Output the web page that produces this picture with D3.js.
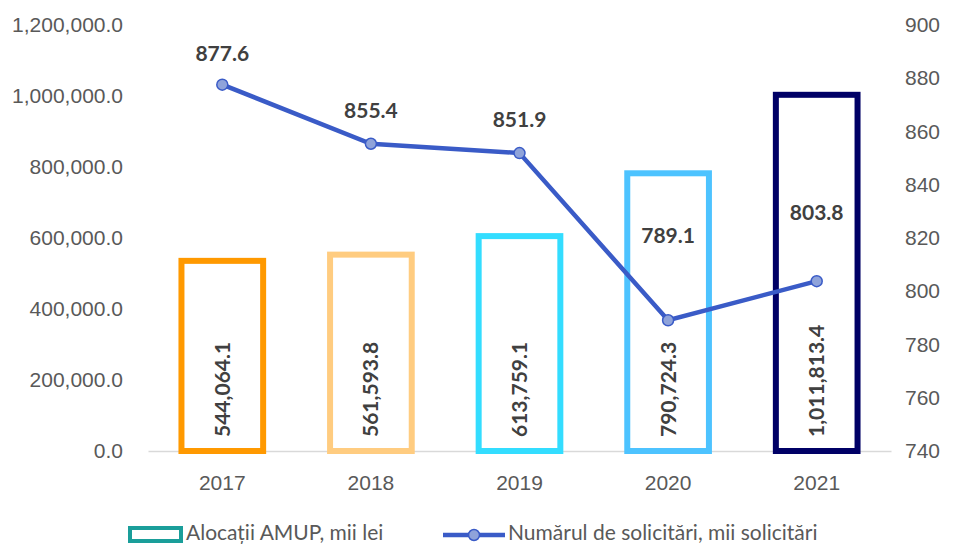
<!DOCTYPE html>
<html lang="ro">
<head>
<meta charset="utf-8">
<title>Alocații AMUP</title>
<style>
  body { margin: 0; background: #fff; }
  svg { font-family: Lato, "Open Sans", sans-serif; }
  .tick text { fill: #595959; font-size: 21px; }
  .lbl { fill: #404040; font-weight: bold; }
</style>
<script src="https://d3js.org/d3.v7.min.js"></script>
</head>
<body>
<script>
const years = ["2017", "2018", "2019", "2020", "2021"];
const allocations = [544064.1, 561593.8, 613759.1, 790724.3, 1011813.4];
const requests = [877.6, 855.4, 851.9, 789.1, 803.8];
const barColors = ["#FF9900", "#FFCC80", "#33DDFF", "#4DC3FF", "#000066"];
const leftTicks = [0, 200000, 400000, 600000, 800000, 1000000, 1200000];
const rightTicks = [740, 760, 780, 800, 820, 840, 860, 880, 900];
// label offsets above the markers (px)
const labelDy = [-24, -26, -26, -77, -61];

const width = 955, height = 546;
const margin = { left: 148, right: 64, top: 25, bottom: 95 };

const svg = d3.select("body").append("svg")
  .attr("width", width).attr("height", height);

const x = d3.scaleBand().domain(years)
  .range([margin.left, width - margin.right]).paddingInner(0.41).paddingOuter(0.205);
const yL = d3.scaleLinear().domain([0, 1200000]).range([height - margin.bottom, margin.top]);
const yR = d3.scaleLinear().domain([740, 900]).range([height - margin.bottom, margin.top]);

const fmt = d3.format(",.1f");

// left axis
svg.append("g")
  .attr("transform", `translate(${margin.left - 22},0)`)
  .call(d3.axisLeft(yL).tickValues(leftTicks).tickFormat(fmt).tickSize(0))
  .call(g => g.select(".domain").remove());

// right axis
svg.append("g")
  .attr("transform", `translate(${width - margin.right + 11},0)`)
  .call(d3.axisRight(yR).tickValues(rightTicks).tickFormat(d3.format("d")).tickSize(0))
  .call(g => g.select(".domain").remove());

// x axis
svg.append("g")
  .attr("transform", `translate(0,${height - margin.bottom})`)
  .call(d3.axisBottom(x).tickSize(0).tickPadding(24))
  .call(g => g.select(".domain").attr("stroke", "#D9D9D9").attr("stroke-width", 1.5));

// bars (hollow)
const sw = 6;
svg.append("g").selectAll("rect")
  .data(years)
  .join("rect")
  .attr("x", (d) => x(d) + sw / 2)
  .attr("width", x.bandwidth() - sw)
  .attr("y", (d, i) => yL(allocations[i]) + sw / 2)
  .attr("height", (d, i) => yL(0) - yL(allocations[i]) - sw / 2)
  .attr("fill", "#fff")
  .attr("stroke", (d, i) => barColors[i])
  .attr("stroke-width", sw);

// bar labels (vertical)
svg.append("g").selectAll("text")
  .data(years)
  .join("text")
  .attr("class", "lbl")
  .attr("transform", d => `translate(${x(d) + x.bandwidth() / 2},${yL(0) - 14}) rotate(-90)`)
  .attr("dy", "0.36em")
  .style("font-size", "21px")
  .text((d, i) => fmt(allocations[i]));

// line
const cx = d => x(d) + x.bandwidth() / 2;
const line = d3.line().x((d, i) => cx(years[i])).y(d => yR(d));
svg.append("path")
  .datum(requests)
  .attr("d", line)
  .attr("fill", "none")
  .attr("stroke", "#3A5BC7")
  .attr("stroke-width", 4.5);

svg.append("g").selectAll("circle")
  .data(requests)
  .join("circle")
  .attr("cx", (d, i) => cx(years[i]))
  .attr("cy", d => yR(d))
  .attr("r", 5.5)
  .attr("fill", "#8FA3DA")
  .attr("stroke", "#3A5BC7")
  .attr("stroke-width", 1.5);

svg.append("g").selectAll("text")
  .data(requests)
  .join("text")
  .attr("class", "lbl")
  .attr("x", (d, i) => cx(years[i]))
  .attr("y", (d, i) => yR(d) + labelDy[i])
  .attr("text-anchor", "middle")
  .style("font-size", "21px")
  .text(d => d3.format(".1f")(d));

// legend
const lg = svg.append("g").style("font-size", "21px").attr("fill", "#595959");
lg.append("rect").attr("x", 130).attr("y", 528).attr("width", 51).attr("height", 13)
  .attr("fill", "#fff").attr("stroke", "#1A9E9A").attr("stroke-width", 4);
lg.append("text").attr("x", 186).attr("y", 540).text("Alocații AMUP, mii lei");
lg.append("line").attr("x1", 443).attr("x2", 505).attr("y1", 535).attr("y2", 535)
  .attr("stroke", "#3A5BC7").attr("stroke-width", 4.5);
lg.append("circle").attr("cx", 474).attr("cy", 535).attr("r", 5.5)
  .attr("fill", "#8FA3DA").attr("stroke", "#3A5BC7").attr("stroke-width", 1.5);
lg.append("text").attr("x", 508).attr("y", 540).text("Numărul de solicitări, mii solicitări");
</script>
</body>
</html>
